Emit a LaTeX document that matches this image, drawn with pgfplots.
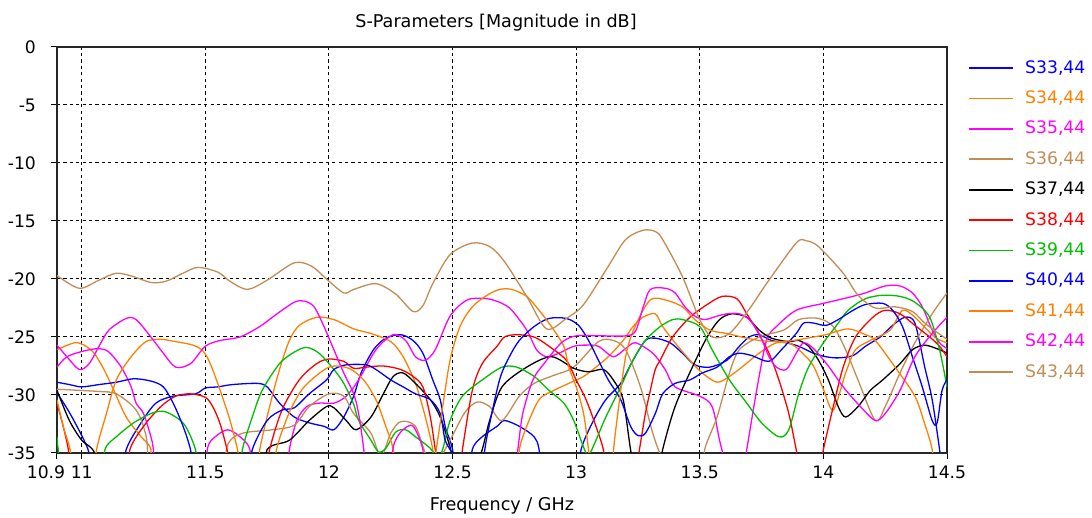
\documentclass[border=0pt]{standalone}
\usepackage{pgfplots}
\pgfplotsset{compat=1.18}
\usepackage{fontspec}
\setmainfont{DejaVu Sans}
\usetikzlibrary{calc}

\definecolor{cBlue}{RGB}{0,0,255}
\definecolor{cOrange}{RGB}{255,128,0}
\definecolor{cMagenta}{RGB}{255,0,255}
\definecolor{cTan}{RGB}{195,140,85}
\definecolor{cRed}{RGB}{255,0,0}
\definecolor{cGreen}{RGB}{0,190,0}

\begin{document}
\begin{tikzpicture}
\begin{axis}[
  scale only axis,
  width=445pt, height=203pt,
  xmin=10.9, xmax=14.5, ymin=-35, ymax=0,
  xtick={10.9,11,11.5,12,12.5,13,13.5,14,14.5},
  xticklabels={\makebox[0pt]{\hspace*{-11pt}10.9},11,11.5,12,12.5,13,13.5,14,14.5},
  ytick={-35,-30,-25,-20,-15,-10,-5,0},
  yticklabels={-35,-30,-25,-20,-15,-10,-5,0},
  xtick pos=bottom, ytick pos=left,
  tick align=outside, major tick length=3pt,
  tick style={black, line width=0.5pt},
  ticklabel style={font=\fontsize{8.6}{10}\selectfont},
  yticklabel style={xshift=-4pt},
  grid=major,
  major grid style={black, line width=0.5pt, dash pattern=on 1.6pt off 1.6pt},
  axis line style={black!85, line width=0.8pt},
  title={S-Parameters [Magnitude in dB]},
  title style={font=\fontsize{8.8}{10}\selectfont, at={(0.5,1)}, anchor=base,
    inner sep=0pt, yshift=3.5pt, xshift=-3pt},
  xlabel={Frequency / GHz},
  xlabel style={font=\fontsize{8.8}{10}\selectfont, at={(0.5,0)}, anchor=base,
    inner sep=0pt, yshift=-29pt},
  legend style={at={(1,1)}, anchor=north west, xshift=10.5pt, yshift=-6.5pt,
    draw=none, fill=none, inner sep=0pt, row sep=7.6pt, column sep=5.5pt,
    font=\fontsize{8.6}{10}\selectfont,
    nodes={inner sep=0pt, text height=6.3pt, text depth=1.3pt, anchor=west}},
  legend cell align=left,
  legend image code/.code={\draw[#1, line width=0.9pt] (0pt,0pt) -- (22pt,0pt);},
  every axis plot/.append style={line width=0.65pt, mark=none, smooth},
]
\coordinate (bbsw) at (rel axis cs:0,0);
\coordinate (bbne) at (rel axis cs:1,1);

% S33,44
\addplot[cBlue] coordinates {
(10.9,-29.8)(10.95,-31.5)(11.0,-33.5)(11.03,-35)(11.06,-38)(11.15,-38)(11.18,-34.7)(11.24,-32.4)(11.3,-30.7)(11.37,-30.1)(11.46,-29.9)(11.5,-29.4)(11.55,-29.3)(11.61,-29.1)(11.71,-29.0)(11.75,-29.3)(11.8,-30.7)(11.86,-31.9)(11.92,-32.4)(11.98,-32.7)(12.02,-33.0)(12.06,-31.9)(12.1,-30.1)(12.13,-28.1)(12.18,-26.1)(12.23,-25.1)(12.29,-24.8)(12.34,-25.3)(12.38,-26.4)(12.42,-28.7)(12.45,-30.4)(12.47,-32.7)(12.5,-34.7)(12.52,-38)(12.56,-38)(12.58,-34.7)(12.62,-33.6)(12.68,-32.7)(12.71,-32.2)(12.77,-32.7)(12.83,-33.6)(12.85,-34.7)(12.87,-38)(13.0,-38)(13.02,-34.7)(13.07,-32.2)(13.12,-30.4)(13.18,-29.0)(13.23,-27.0)(13.28,-25.3)(13.32,-25.1)(13.38,-25.5)(13.43,-26.4)(13.48,-27.4)(13.54,-27.6)(13.61,-27.0)(13.66,-25.8)(13.7,-25.0)(13.74,-24.8)(13.79,-25.3)(13.85,-25.5)(13.9,-25.8)(13.96,-26.4)(14.01,-26.7)(14.06,-26.8)(14.12,-26.6)(14.17,-25.8)(14.23,-25.0)(14.28,-24.0)(14.33,-23.3)(14.37,-23.8)(14.41,-27.6)(14.44,-30.4)(14.47,-34.7)(14.49,-38)(14.5,-38)
};
\addlegendentry{\textcolor{cBlue}{S33,44}}

% S34,44
\addplot[cOrange] coordinates {
(10.9,-26.1)(10.97,-25.5)(11.01,-25.7)(11.05,-26.4)(11.09,-27.8)(11.13,-29.6)(11.18,-31.9)(11.24,-33.6)(11.28,-34.7)(11.3,-38)(11.7,-38)(11.72,-34.7)(11.76,-31.0)(11.8,-27.8)(11.84,-25.3)(11.88,-24.0)(11.95,-23.3)(12.02,-23.5)(12.1,-24.3)(12.17,-24.7)(12.25,-25.4)(12.3,-26.7)(12.35,-29.0)(12.39,-31.9)(12.42,-34.7)(12.44,-38)(12.75,-38)(12.77,-34.7)(12.8,-32.7)(12.85,-30.4)(12.91,-29.6)(12.97,-29.0)(13.03,-28.4)(13.08,-27.6)(13.13,-26.7)(13.19,-25.3)(13.23,-24.1)(13.27,-23.3)(13.32,-23.0)(13.35,-24.1)(13.4,-25.5)(13.46,-27.0)(13.51,-28.1)(13.57,-28.9)(13.62,-28.4)(13.67,-27.6)(13.74,-26.4)(13.81,-25.5)(13.87,-25.6)(13.92,-26.5)(13.96,-27.5)(14.0,-29.5)(14.04,-31.3)(14.09,-28.1)(14.13,-26.1)(14.19,-25.3)(14.27,-24.4)(14.32,-22.7)(14.37,-23.3)(14.45,-25.0)(14.5,-25.5)
};
\addlegendentry{\textcolor{cOrange}{S34,44}}

% S35,44
\addplot[cMagenta] coordinates {
(10.9,-27.6)(10.94,-26.7)(11.01,-26.2)(11.07,-26.0)(11.11,-26.3)(11.16,-27.6)(11.2,-29.3)(11.22,-30.7)(11.25,-31.6)(11.28,-33.6)(11.29,-34.7)(11.31,-38)(11.48,-38)(11.51,-34.5)(11.54,-33.6)(11.59,-33.0)(11.64,-33.6)(11.68,-34.7)(11.7,-38)(11.82,-38)(11.84,-34.7)(11.87,-32.2)(11.91,-31.0)(11.96,-30.7)(12.02,-30.7)(12.07,-30.1)(12.12,-28.7)(12.19,-26.1)(12.26,-24.8)(12.31,-25.3)(12.35,-26.7)(12.39,-27.0)(12.43,-26.1)(12.49,-23.2)(12.56,-21.8)(12.64,-21.7)(12.7,-22.1)(12.74,-22.7)(12.8,-24.4)(12.84,-26.1)(12.88,-26.7)(12.93,-26.4)(12.99,-25.8)(13.04,-25.7)(13.09,-25.8)(13.15,-26.7)(13.2,-26.0)(13.24,-25.5)(13.31,-26.4)(13.36,-27.8)(13.4,-29.3)(13.5,-30.1)(13.55,-31.0)(13.58,-33.9)(13.6,-35.5)(13.64,-38)(13.67,-37)(13.69,-34.7)(13.73,-29.6)(13.77,-25.3)(13.81,-24.1)(13.89,-22.7)(14.0,-22.1)(14.1,-21.6)(14.17,-21.2)(14.25,-20.6)(14.31,-20.6)(14.36,-21.2)(14.4,-22.4)(14.44,-24.4)(14.47,-25.5)(14.5,-26.0)
};
\addlegendentry{\textcolor{cMagenta}{S35,44}}

% S36,44
\addplot[cTan] coordinates {
(10.9,-29.5)(10.99,-29.6)(11.07,-29.7)(11.14,-29.9)(11.22,-31.3)(11.26,-33.5)(11.3,-38)(11.55,-38)(11.59,-34.3)(11.65,-33.3)(11.77,-33.0)(11.86,-32.6)(11.92,-31.0)(12.0,-29.9)(12.06,-30.1)(12.1,-31.6)(12.17,-33.3)(12.21,-35.3)(12.25,-33.3)(12.29,-32.3)(12.35,-32.7)(12.4,-35.5)(12.45,-35.3)(12.49,-33.9)(12.55,-31.5)(12.6,-30.6)(12.65,-31.0)(12.7,-32.2)(12.77,-30.1)(12.83,-29.0)(12.91,-28.3)(12.99,-27.6)(13.09,-25.4)(13.15,-25.3)(13.2,-26.1)(13.26,-29.3)(13.31,-33.3)(13.35,-35.5)(13.43,-38)(13.5,-38)(13.52,-34.7)(13.57,-31.9)(13.62,-28.1)(13.66,-26.1)(13.74,-25.0)(13.84,-24.4)(13.9,-23.5)(13.98,-23.4)(14.04,-24.1)(14.09,-26.1)(14.14,-28.7)(14.21,-32.2)(14.25,-31.0)(14.31,-28.1)(14.37,-25.5)(14.44,-23.0)(14.5,-21.2)
};
\addlegendentry{\textcolor{cTan}{S36,44}}

% S37,44
\addplot[black] coordinates {
(10.9,-29.6)(10.95,-32.2)(11.0,-33.9)(11.05,-34.9)(11.1,-38)(11.7,-38)(11.75,-34.7)(11.84,-33.9)(11.92,-32.2)(11.99,-31.0)(12.02,-31.1)(12.07,-32.2)(12.11,-33.0)(12.17,-31.9)(12.22,-29.9)(12.26,-28.4)(12.3,-28.1)(12.35,-29.0)(12.41,-30.4)(12.45,-31.9)(12.49,-34.5)(12.52,-37)(12.58,-37)(12.62,-34.7)(12.65,-32.2)(12.7,-29.3)(12.8,-27.6)(12.9,-26.7)(12.99,-27.7)(13.05,-28.0)(13.11,-27.8)(13.15,-28.7)(13.19,-30.4)(13.22,-34.7)(13.25,-38)(13.32,-38)(13.35,-34.7)(13.4,-31.0)(13.47,-27.6)(13.53,-25.0)(13.58,-23.5)(13.63,-23.0)(13.69,-23.3)(13.74,-24.4)(13.79,-25.1)(13.86,-25.4)(13.9,-25.3)(13.94,-25.8)(13.98,-27.0)(14.02,-28.7)(14.06,-31.0)(14.09,-31.9)(14.14,-31.0)(14.19,-29.6)(14.24,-28.7)(14.31,-27.3)(14.36,-26.1)(14.41,-25.7)(14.47,-26.1)(14.5,-26.4)
};
\addlegendentry{\textcolor{black}{S37,44}}

% S38,44
\addplot[cRed] coordinates {
(10.9,-30.7)(10.925,-32.7)(10.946,-34.7)(10.97,-38)(11.17,-38)(11.195,-34.7)(11.25,-32.7)(11.32,-31.0)(11.38,-30.1)(11.44,-29.9)(11.5,-30.2)(11.53,-31.0)(11.56,-32.5)(11.59,-34.9)(11.62,-38)(11.73,-38)(11.76,-34.7)(11.81,-31.3)(11.88,-28.7)(11.95,-27.3)(12.0,-26.9)(12.06,-27.1)(12.1,-27.7)(12.15,-27.6)(12.22,-27.5)(12.29,-27.8)(12.34,-28.4)(12.38,-29.3)(12.41,-31.9)(12.43,-34.7)(12.45,-38)(12.52,-38)(12.54,-34.7)(12.58,-29.6)(12.62,-27.3)(12.68,-25.8)(12.71,-25.0)(12.76,-24.8)(12.83,-25.0)(12.89,-25.8)(12.96,-27.0)(13.0,-28.7)(13.04,-30.4)(13.08,-32.7)(13.11,-34.7)(13.14,-38)(13.23,-38)(13.256,-34.7)(13.28,-31.6)(13.3,-29.6)(13.32,-27.8)(13.34,-27.0)(13.39,-25.0)(13.46,-23.3)(13.53,-22.2)(13.59,-21.5)(13.65,-21.7)(13.69,-23.0)(13.73,-24.4)(13.78,-26.4)(13.82,-28.7)(13.86,-31.6)(13.89,-34.7)(13.92,-38)(13.97,-38)(14.0,-34.7)(14.04,-31.0)(14.08,-27.6)(14.13,-25.0)(14.2,-23.3)(14.25,-22.7)(14.31,-23.0)(14.37,-24.0)(14.43,-25.0)(14.47,-25.8)(14.5,-26.7)
};
\addlegendentry{\textcolor{cRed}{S38,44}}

% S39,44
\addplot[cGreen] coordinates {
(10.9,-33.6)(10.905,-34.7)(10.93,-38)(11.07,-38)(11.094,-34.7)(11.14,-33.6)(11.21,-32.4)(11.28,-31.6)(11.33,-31.4)(11.38,-31.9)(11.42,-32.7)(11.46,-34.7)(11.49,-38)(11.63,-38)(11.65,-34.7)(11.69,-31.9)(11.73,-29.6)(11.8,-27.3)(11.86,-26.3)(11.91,-25.9)(11.96,-26.4)(12.02,-27.8)(12.06,-29.0)(12.1,-30.8)(12.12,-32.2)(12.17,-33.9)(12.2,-34.9)(12.23,-34.6)(12.27,-33.2)(12.31,-33.0)(12.35,-33.6)(12.41,-34.6)(12.44,-35.5)(12.46,-34.7)(12.49,-32.2)(12.54,-30.1)(12.62,-28.7)(12.7,-27.6)(12.76,-27.6)(12.83,-28.4)(12.89,-29.6)(12.95,-30.7)(12.99,-32.2)(13.03,-34.5)(13.05,-35.2)(13.08,-33.9)(13.12,-31.9)(13.18,-29.3)(13.23,-27.0)(13.28,-25.3)(13.34,-24.1)(13.39,-23.5)(13.43,-23.5)(13.5,-24.1)(13.55,-26.1)(13.62,-28.7)(13.69,-30.7)(13.75,-32.4)(13.82,-33.6)(13.86,-33.0)(13.9,-29.9)(13.94,-27.6)(14.0,-25.5)(14.05,-24.1)(14.1,-22.7)(14.17,-21.7)(14.24,-21.4)(14.31,-21.5)(14.37,-22.0)(14.43,-23.3)(14.47,-26.1)(14.5,-29.3)
};
\addlegendentry{\textcolor{cGreen}{S39,44}}

% S40,44
\addplot[cBlue] coordinates {
(10.9,-28.9)(10.95,-29.1)(11.0,-29.3)(11.07,-29.1)(11.14,-28.9)(11.21,-28.6)(11.28,-28.8)(11.33,-29.3)(11.37,-30.7)(11.41,-32.7)(11.44,-34.7)(11.47,-38)(11.66,-38)(11.69,-34.7)(11.75,-32.2)(11.81,-31.3)(11.86,-31.1)(11.92,-29.9)(11.99,-28.7)(12.02,-27.8)(12.07,-27.4)(12.15,-27.4)(12.19,-27.8)(12.25,-28.7)(12.3,-29.3)(12.35,-29.9)(12.41,-30.4)(12.45,-31.6)(12.47,-33.9)(12.5,-35.2)(12.52,-38)(12.6,-38)(12.64,-33.5)(12.69,-28.7)(12.73,-26.7)(12.77,-25.3)(12.83,-24.1)(12.89,-23.4)(12.96,-23.4)(13.01,-24.0)(13.05,-25.3)(13.09,-27.0)(13.13,-28.7)(13.18,-30.4)(13.22,-32.7)(13.25,-33.5)(13.28,-33.3)(13.32,-31.6)(13.35,-29.9)(13.4,-29.0)(13.46,-28.7)(13.51,-28.1)(13.57,-27.6)(13.62,-26.7)(13.66,-26.4)(13.71,-26.6)(13.78,-27.1)(13.83,-26.1)(13.89,-24.7)(13.92,-23.8)(13.96,-23.8)(14.01,-24.0)(14.06,-23.5)(14.12,-22.7)(14.17,-22.2)(14.24,-22.1)(14.28,-22.7)(14.32,-24.1)(14.36,-26.7)(14.4,-29.3)(14.44,-32.2)(14.46,-32.4)(14.48,-29.6)(14.5,-28.7)
};
\addlegendentry{\textcolor{cBlue}{S40,44}}

% S41,44
\addplot[cOrange] coordinates {
(10.9,-30.4)(10.925,-32.7)(10.953,-34.7)(10.98,-38)(11.04,-38)(11.06,-34.7)(11.1,-31.6)(11.14,-28.7)(11.2,-26.7)(11.26,-25.4)(11.32,-25.2)(11.38,-25.4)(11.45,-25.7)(11.49,-26.2)(11.52,-27.3)(11.56,-29.6)(11.6,-32.2)(11.63,-34.7)(11.66,-38)(11.76,-38)(11.79,-34.5)(11.84,-31.5)(11.9,-29.3)(12.0,-27.6)(12.08,-27.7)(12.14,-28.7)(12.19,-30.4)(12.23,-32.7)(12.26,-34.7)(12.28,-38)(12.41,-38)(12.434,-34.7)(12.46,-31.0)(12.49,-27.0)(12.53,-24.1)(12.58,-22.4)(12.64,-21.4)(12.69,-20.9)(12.74,-20.9)(12.8,-21.5)(12.85,-22.7)(12.9,-24.1)(12.95,-25.8)(12.97,-27.6)(13.0,-29.3)(13.03,-31.6)(13.05,-34.7)(13.07,-38)(13.13,-38)(13.16,-33.0)(13.2,-26.7)(13.24,-24.0)(13.3,-21.8)(13.36,-21.8)(13.43,-22.4)(13.48,-23.5)(13.54,-24.4)(13.61,-24.7)(13.67,-25.0)(13.74,-25.3)(13.81,-25.4)(13.88,-25.3)(13.96,-25.0)(14.01,-24.8)(14.1,-24.3)(14.17,-24.8)(14.21,-25.3)(14.29,-27.6)(14.37,-30.1)(14.41,-32.5)(14.44,-34.7)(14.46,-38)(14.5,-38)
};
\addlegendentry{\textcolor{cOrange}{S41,44}}

% S42,44
\addplot[cMagenta] coordinates {
(10.9,-25.7)(10.94,-26.7)(10.99,-27.8)(11.03,-27.3)(11.07,-25.8)(11.11,-24.4)(11.18,-23.4)(11.22,-23.5)(11.28,-25.0)(11.33,-26.4)(11.38,-27.6)(11.44,-27.3)(11.5,-25.8)(11.56,-25.3)(11.64,-25.0)(11.72,-24.1)(11.79,-23.0)(11.86,-22.0)(11.9,-21.9)(11.94,-22.4)(11.98,-24.1)(12.02,-26.1)(12.06,-28.1)(12.1,-29.9)(12.12,-31.6)(12.14,-34.5)(12.16,-38)(12.24,-38)(12.26,-34.5)(12.29,-33.2)(12.33,-32.6)(12.35,-33.0)(12.38,-34.7)(12.4,-38)(12.74,-38)(12.764,-34.7)(12.784,-31.6)(12.825,-28.7)(12.87,-27.3)(12.94,-25.5)(13.0,-24.9)(13.1,-24.9)(13.2,-24.9)(13.24,-24.5)(13.27,-22.5)(13.3,-20.9)(13.36,-20.8)(13.4,-21.2)(13.44,-22.4)(13.48,-23.2)(13.52,-23.5)(13.57,-23.2)(13.61,-23.0)(13.66,-23.0)(13.7,-23.5)(13.74,-24.7)(13.78,-26.7)(13.81,-27.6)(13.85,-27.8)(13.89,-26.4)(13.92,-25.5)(13.96,-26.0)(14.02,-27.5)(14.08,-29.3)(14.15,-31.0)(14.21,-32.2)(14.25,-31.6)(14.31,-29.6)(14.37,-26.7)(14.44,-24.7)(14.5,-23.3)
};
\addlegendentry{\textcolor{cMagenta}{S42,44}}

% S43,44
\addplot[cTan] coordinates {
(10.9,-19.7)(10.99,-20.8)(11.07,-20.1)(11.14,-19.5)(11.21,-19.8)(11.28,-20.3)(11.34,-20.2)(11.41,-19.5)(11.47,-19.0)(11.55,-19.4)(11.6,-20.2)(11.67,-20.9)(11.75,-20.1)(11.86,-18.6)(11.93,-18.9)(11.99,-20.0)(12.06,-21.2)(12.1,-20.9)(12.19,-20.4)(12.27,-21.3)(12.34,-22.8)(12.38,-22.3)(12.42,-20.4)(12.49,-17.9)(12.58,-16.9)(12.65,-17.2)(12.71,-18.5)(12.8,-21.5)(12.88,-24.3)(12.96,-23.4)(13.03,-22.2)(13.13,-18.9)(13.2,-16.6)(13.27,-15.8)(13.32,-15.9)(13.35,-16.6)(13.43,-19.8)(13.5,-23.5)(13.55,-25.0)(13.62,-24.7)(13.7,-22.6)(13.77,-20.4)(13.89,-16.9)(13.93,-16.7)(13.98,-17.2)(14.08,-19.5)(14.14,-21.4)(14.21,-22.5)(14.29,-22.4)(14.36,-22.8)(14.41,-23.8)(14.46,-24.6)(14.5,-25.2)
};
\addlegendentry{\textcolor{cTan}{S43,44}}
\end{axis}
\path ($(bbsw)+(-28.5pt,-32.5pt)$) rectangle ($(bbne)+(72.5pt,23.5pt)$);
\end{tikzpicture}
\end{document}
